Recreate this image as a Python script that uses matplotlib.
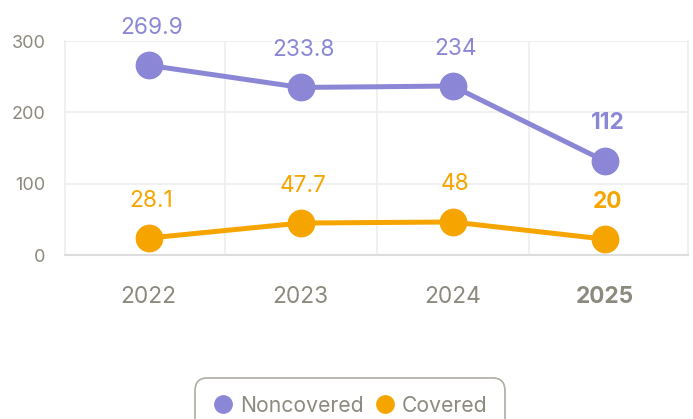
import matplotlib.pyplot as plt
from matplotlib.lines import Line2D
import numpy as np

# Data
years = ["2022", "2023", "2024", "2025"]
noncovered = [266, 235, 237, 132]
covered = [24, 45, 46.5, 22.5]
noncovered_labels = ["269.9", "233.8", "234", "112"]
covered_labels = ["28.1", "47.7", "48", "20"]

purple = "#8b87d6"
orange = "#f6a500"
gray = "#8c897d"

plt.rcParams["font.family"] = ["Inter", "DejaVu Sans"]

fig = plt.figure(figsize=(6.93, 4.19), dpi=100)
ax = fig.add_axes([0.094, 0.391, 0.899, 0.511])

x = np.arange(len(years))
ax.plot(x, noncovered, color=purple, lw=3.6, marker="o", markersize=19, zorder=3)
ax.plot(x, covered, color=orange, lw=3.6, marker="o", markersize=19, zorder=3)

# value labels above the points, last year in bold
for i in range(len(years)):
    weight = "bold" if i == len(years) - 1 else "normal"
    ax.annotate(noncovered_labels[i], (x[i], noncovered[i]), xytext=(2, 27),
                textcoords="offset points", ha="center", va="center",
                color=purple, fontsize=16.3, fontweight=weight)
    ax.annotate(covered_labels[i], (x[i], covered[i]), xytext=(2, 27),
                textcoords="offset points", ha="center", va="center",
                color=orange, fontsize=16.3, fontweight=weight)

ax.set_xlim(-0.55, len(years) - 0.45)
ax.set_ylim(0, 300)
ax.set_yticks([0, 100, 200, 300])
ax.set_xticks(x)
ax.set_xticklabels(years)
ax.get_xticklabels()[-1].set_fontweight("bold")
ax.set_xticks(np.arange(0.5, len(years) - 1), minor=True)

ax.tick_params(axis="x", which="both", length=0, pad=22, labelsize=16.3, labelcolor=gray)
ax.tick_params(axis="y", length=0, pad=14, labelsize=13, labelcolor=gray)

ax.grid(axis="y", which="major", color="#eeeeee", lw=1.2)
ax.grid(axis="x", which="minor", color="#eeeeee", lw=1.2)
ax.set_axisbelow(True)
ax.spines["top"].set_visible(False)
for s in ["left", "right"]:
    ax.spines[s].set_color("#eeeeee")
    ax.spines[s].set_linewidth(1.2)
ax.spines["bottom"].set_color("#dddddd")
ax.spines["bottom"].set_linewidth(1.5)

handles = [
    Line2D([], [], marker="o", ls="none", color=purple, markersize=12.5),
    Line2D([], [], marker="o", ls="none", color=orange, markersize=12.5),
]
leg = fig.legend(handles, ["Noncovered", "Covered"], loc="upper center",
                 bbox_to_anchor=(0.505, 0.098), borderaxespad=0, ncol=2,
                 frameon=True, fontsize=15.2, handletextpad=0.3,
                 columnspacing=0.5, handlelength=1.0, borderpad=0.85,
                 labelcolor=gray)
leg.get_frame().set_edgecolor("#9a978c")
leg.get_frame().set_linewidth(1.2)
leg.get_frame().set_boxstyle("round,pad=0,rounding_size=0.6")

fig.savefig("out.png", dpi=100)
